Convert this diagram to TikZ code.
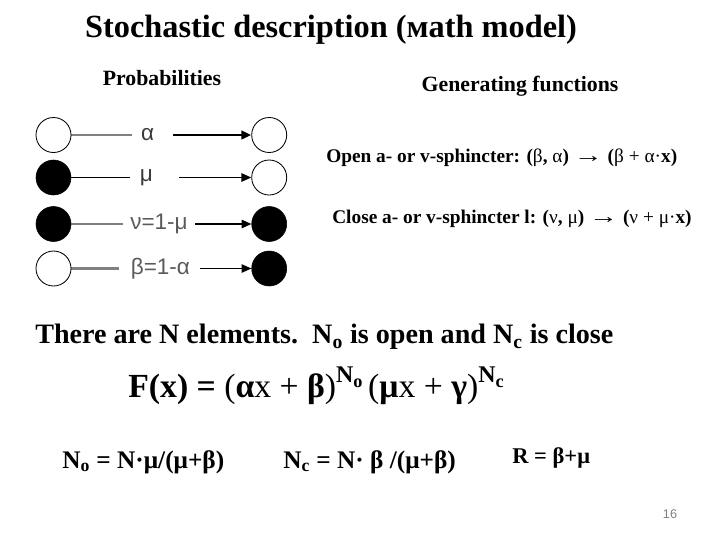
\documentclass[tikz,border=0pt]{standalone}
\usepackage{fontspec}
\usepackage{graphicx}
\setmainfont{Liberation Serif}
\newfontfamily\sansfont{Liberation Sans}
\usetikzlibrary{arrows.meta}
\pgfdeclarelayer{edgelayer}
\pgfdeclarelayer{nodelayer}
\pgfsetlayers{edgelayer,nodelayer,main}
\definecolor{ratedark}{HTML}{3A3A3A}
\definecolor{rategray}{HTML}{5A5A5A}
\definecolor{linegray}{HTML}{808080}
\newcommand{\gr}[1]{{\mdseries #1}}
\newcommand{\longto}{\gr{\scalebox{1.5}[1.1]{→}}}
\newcommand{\expo}[2]{\raisebox{0.45em}{\fontsize{17}{18}\selectfont N\raisebox{-0.2em}{\fontsize{13}{14}\selectfont #2}}}
\tikzstyle{none}=[inner sep=0pt]
\tikzstyle{openstate}=[circle, fill=white, draw=black, line width=0.6pt, minimum size=0.875cm, inner sep=0pt]
\tikzstyle{closedstate}=[circle, fill=black, draw=black, minimum size=0.875cm, inner sep=0pt]
\tikzstyle{ratelabel}=[inner sep=0pt, font=\sansfont\fontsize{16}{18}\selectfont]
\tikzstyle{arrowedge}=[draw=black, -{Triangle[length=7pt, width=6pt]}]
\tikzstyle{heading}=[inner sep=0pt, font=\bfseries\fontsize{15.5}{18}\selectfont]
\tikzstyle{formula}=[inner sep=0pt, anchor=west, font=\bfseries\fontsize{13.75}{17}\selectfont]
\tikzstyle{bigformula}=[inner sep=0pt, anchor=west, font=\bfseries\fontsize{20}{24}\selectfont]
\tikzstyle{result}=[inner sep=0pt, anchor=west, font=\bfseries\fontsize{18}{21}\selectfont]

\begin{document}
\begin{tikzpicture}
			\useasboundingbox (0, 0) rectangle (18, -13.5);
			\begin{pgfonlayer}{nodelayer}
			\node [style=none, font=\bfseries\fontsize{23}{27}\selectfont] (0) at (8.275, -0.75) {Stochastic description (мath model)};
			\node [style=heading] (1) at (4.05, -1.95) {Probabilities};
			\node [style=heading] (2) at (13, -2.15) {Generating functions};
			\node [style=openstate] (3) at (1.3375, -3.375) {};
			\node [style=closedstate] (4) at (1.3375, -4.4375) {};
			\node [style=closedstate] (5) at (1.3375, -5.6) {};
			\node [style=openstate] (6) at (1.3375, -6.7125) {};
			\node [style=openstate] (7) at (6.73, -3.375) {};
			\node [style=openstate] (8) at (6.73, -4.4375) {};
			\node [style=closedstate] (9) at (6.73, -5.6) {};
			\node [style=closedstate] (10) at (6.73, -6.7125) {};
			\coordinate (11) at (3.29, -3.375);
			\coordinate (12) at (3.25, -4.4375);
			\coordinate (13) at (3.07, -5.6);
			\coordinate (14) at (2.975, -6.7125);
			\node [style=ratelabel, text=ratedark] (15) at (3.69, -3.375) {α};
			\node [style=ratelabel, text=ratedark] (16) at (3.66, -4.4375) {μ};
			\node [style=ratelabel, text=rategray] (17) at (3.975, -5.6) {ν=1-μ};
			\node [style=ratelabel, text=rategray] (18) at (4.01, -6.7125) {β=1-α};
			\coordinate (19) at (4.33, -3.375);
			\coordinate (20) at (4.48, -4.4375);
			\coordinate (21) at (4.875, -5.6);
			\coordinate (22) at (5.0, -6.7125);
			\node [style=formula] (23) at (8.15, -3.95) {Open a- or v-sphincter: (\gr{β}, \gr{α}) \longto{} (\gr{β} \gr{+} \gr{α}\gr{·}x)};
			\node [style=formula] (24) at (8.3, -5.475) {Close a- or v-sphincter l: (\gr{ν}, \gr{μ}) \longto{} (\gr{ν} \gr{+} \gr{μ}\gr{·}x)};
			\node [style=bigformula] (25) at (0.875, -8.425) {There are N elements.\ \ N\textsubscript{o} is open and N\textsubscript{c} is close};
			\node [style=bigformula, font=\bfseries\fontsize{24}{28}\selectfont] (26) at (3.2, -9.65) {F(x) = \gr{(}α\gr{x} \gr{+} β\gr{)}\expo{N}{o}\,\gr{(}μ\gr{x} \gr{+} γ\gr{)}\expo{N}{c}};
			\node [style=result] (27) at (1.55, -11.55) {N\textsubscript{o} = N·μ/(μ+β)};
			\node [style=result] (28) at (7.075, -11.55) {N\textsubscript{c} = N· β /(μ+β)};
			\node [style=result, font=\bfseries\fontsize{16}{19}\selectfont] (29) at (12.8, -11.45) {R = β+μ};
			\node [style=none, font=\sansfont\fontsize{9}{11}\selectfont, text=gray] (30) at (16.75, -12.85) {16};
			\end{pgfonlayer}
			\begin{pgfonlayer}{edgelayer}
			\draw [draw=linegray, line width=1.6pt] (3) to (11);
			\draw [line width=0.8pt] (4) to (12);
			\draw [draw=linegray, line width=1.2pt] (5) to (13);
			\draw [draw=linegray, line width=2.2pt] (6) to (14);
			\draw [style=arrowedge, line width=2pt] (19) to (7);
			\draw [style=arrowedge, line width=1pt] (20) to (8);
			\draw [style=arrowedge, line width=1pt] (21) to (9);
			\draw [style=arrowedge, line width=1pt] (22) to (10);
			\end{pgfonlayer}
\end{tikzpicture}
\end{document}
